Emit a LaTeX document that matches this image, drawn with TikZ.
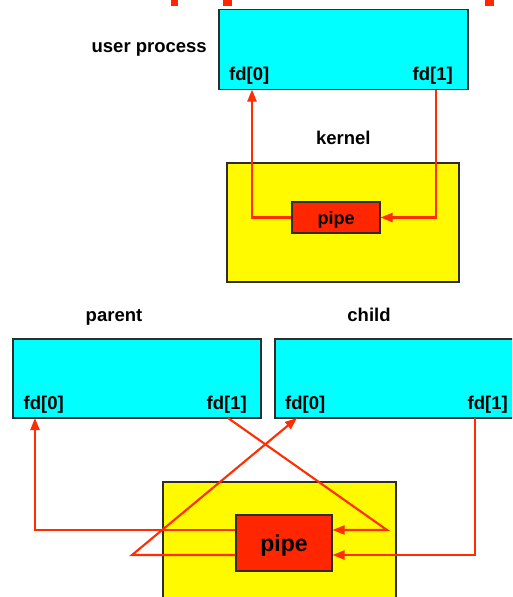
\documentclass[tikz,border=0pt]{standalone}
\usepackage{fontspec}
\setmainfont{Liberation Sans}
\usetikzlibrary{arrows.meta}
\definecolor{procfill}{RGB}{0,255,255}
\definecolor{kernfill}{RGB}{255,250,0}
\definecolor{pipefill}{RGB}{255,38,0}
\definecolor{flow}{RGB}{255,45,0}
\definecolor{edge}{RGB}{45,45,45}
\tikzset{
  procbox/.style={draw=edge, line width=1.1pt, fill=procfill, inner sep=0pt},
  kernbox/.style={draw=edge, line width=1.1pt, fill=kernfill, inner sep=0pt},
  pipebox/.style={draw=edge, line width=1.1pt, fill=pipefill, inner sep=0pt, text depth=0pt,
    font=\bfseries\fontsize{18}{21}\selectfont},
  lbl/.style={inner sep=0pt, font=\bfseries\fontsize{18.5}{22}\selectfont},
  flowline/.style={draw=flow, line width=2.1pt, line join=miter},
  flowarrow/.style={flowline, -{Triangle[length=12pt,width=9pt]}},
}
\begin{document}
\begin{tikzpicture}[x=1pt,y=-1pt]
\useasboundingbox (0,0) rectangle (512,597);
\begin{scope}
\clip (0,0) rectangle (512,597);

% fragments of the heading cut off at the top edge
\fill[pipefill] (171,-2) rectangle (178,5.5);
\fill[pipefill] (223,-2) rectangle (232,5.5);
\fill[pipefill] (485,-2) rectangle (494,5.5);

% ---- single process with a pipe ----
\node[procbox, minimum width=249pt, minimum height=80pt] (proc) at (343.5,49.5) {};
\node[lbl, anchor=base east] (uplabel) at (207,52) {user process};
\node[lbl, anchor=base west] (pfd0) at (229,80) {fd[0]};
\node[lbl, anchor=base east] (pfd1) at (453,80) {fd[1]};
\node[lbl, anchor=base] (kernlabel) at (343.3,144.3) {kernel};
\node[kernbox, minimum width=232pt, minimum height=119pt] (kern) at (343,222.5) {};
\node[pipebox, text height=13.6pt, minimum width=88pt, minimum height=31pt] (pipeA) at (336,217.5) {pipe};

\coordinate (pin) at (252,89.5);
\coordinate (pout) at (436,89.5);
\draw[flowarrow] (pipeA.west) -| (pin);
\draw[flowarrow] (pout) |- (pipeA.east);

% ---- parent and child after fork ----
\node[lbl, anchor=base] (parlabel) at (114,321) {parent};
\node[lbl, anchor=base] (chlabel) at (369,321) {child};
\node[procbox, minimum width=248pt, minimum height=79pt] (parent) at (137,378.5) {};
\node[procbox, minimum width=250pt, minimum height=79pt] (child) at (400,378.5) {};
\node[lbl, anchor=base west] (afd0) at (23.5,409.5) {fd[0]};
\node[lbl, anchor=base east] (afd1) at (247,409.5) {fd[1]};
\node[lbl, anchor=base west] (cfd0) at (285,409.5) {fd[0]};
\node[lbl, anchor=base east] (cfd1) at (508,409.5) {fd[1]};

\node[kernbox, minimum width=233pt, minimum height=130pt] (kernB) at (279.5,547) {};
\node[pipebox, text height=17.4pt, minimum width=96pt, minimum height=56pt,
      font=\bfseries\fontsize{23}{27}\selectfont] (pipeB) at (284,543) {pipe};

\coordinate (ain) at (35,418);
\coordinate (aout) at (228,418);
\coordinate (cin) at (297,418);
\coordinate (cout) at (475,418);
\coordinate (bendR) at (387,530);
\coordinate (bendL) at (132,555);

% parent reads from the pipe
\draw[flowarrow] (pipeB.west |- 0,530) -| (ain);
% parent writes into the pipe
\draw[flowarrow] (aout) -- (bendR) -- (pipeB.east |- 0,530);
% child reads from the pipe
\draw[flowarrow] (pipeB.west |- 0,555) -- (bendL) -- (cin);
% child writes into the pipe
\draw[flowarrow] (cout) |- (pipeB.east |- 0,555);
\end{scope}
\end{tikzpicture}
\end{document}
